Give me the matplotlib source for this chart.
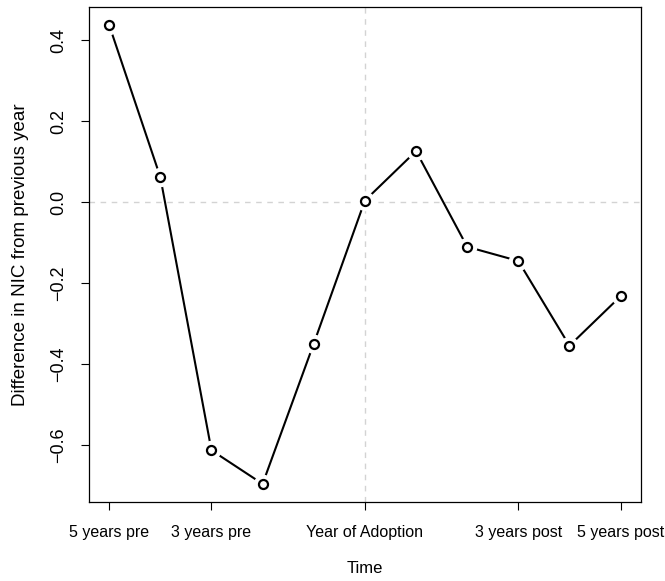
import matplotlib
matplotlib.use("Agg")
import matplotlib.pyplot as plt

plt.rcParams["font.family"] = ["Liberation Sans", "DejaVu Sans"]

years = [-5, -4, -3, -2, -1, 0, 1, 2, 3, 4, 5]
nic_diff = [0.437, 0.062, -0.612, -0.695, -0.349, 0.004, 0.126, -0.110, -0.145, -0.354, -0.232]

xtick_pos = [-5, -3, 0, 3, 5]
xtick_labels = ["5 years pre", "3 years pre", "Year of Adoption", "3 years post", "5 years post"]
ytick_pos = [-0.6, -0.4, -0.2, 0.0, 0.2, 0.4]

fig = plt.figure(figsize=(6.65, 5.81), dpi=100)
ax = fig.add_axes([0.1334, 0.1355, 0.8306, 0.853])

# reference lines
ax.axhline(0, color="#d3d3d3", lw=1, ls=(0, (4, 4)), zorder=1)
ax.axvline(0, color="#d3d3d3", lw=1, ls=(0, (4, 4)), zorder=1)

# R type="b": line with gaps around the points
ax.plot(years, nic_diff, color="black", lw=1.5, zorder=2)
ax.plot(years, nic_diff, ls="none", marker="o", ms=13, mfc="white", mec="white", zorder=3)
ax.plot(years, nic_diff, ls="none", marker="o", ms=6.5, mfc="white", mec="black", mew=1.6, zorder=4)

ax.set_xlim(-5.4, 5.4)
lo, hi = min(nic_diff), max(nic_diff)
pad = (hi - lo) * 0.04
ax.set_ylim(lo - pad, hi + pad)

ax.set_xticks(xtick_pos)
ax.set_xticklabels(xtick_labels)
ax.set_yticks(ytick_pos)
ax.set_yticklabels([("%.1f" % v).replace("-", "\u2212") for v in ytick_pos],
                   rotation=90, va="center")

ax.tick_params(axis="both", direction="out", length=6, width=0.8)
ax.tick_params(axis="x", pad=10.5, labelsize=11.5)
ax.tick_params(axis="y", pad=9.5, labelsize=13)
for sp in ax.spines.values():
    sp.set_linewidth(0.9)

ax.set_xlabel("Time", fontsize=12, labelpad=15)
ax.set_ylabel("Difference in NIC from previous year", fontsize=13.5, labelpad=15)

fig.savefig("out.png", dpi=100)
